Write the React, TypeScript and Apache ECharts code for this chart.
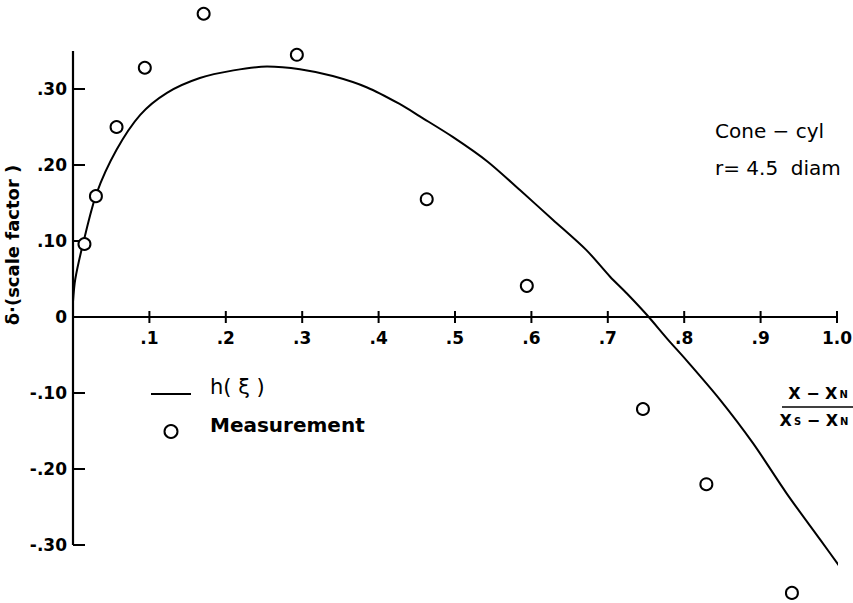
import React, { useEffect, useRef } from "react";
import * as echarts from "echarts";

// Tick positions and their printed labels
const xTicks = [0.1, 0.2, 0.3, 0.4, 0.5, 0.6, 0.7, 0.8, 0.9, 1.0];
const xTickLabels = [".1", ".2", ".3", ".4", ".5", ".6", ".7", ".8", ".9", "1.0"];
const yTicks = [-0.3, -0.2, -0.1, 0, 0.1, 0.2, 0.3];
const yTickLabels = ["-.30", "-.20", "-.10", "0", ".10", ".20", ".30"];

// Extent of the drawn vertical axis
const yAxisSpan = [-0.3, 0.35];

// h(ξ) curve
const curveXi = [
  0, 0.003, 0.014, 0.031, 0.057, 0.088, 0.123, 0.166, 0.21, 0.254, 0.297, 0.34,
  0.385, 0.428, 0.454, 0.497, 0.542, 0.585, 0.628, 0.672, 0.703, 0.725, 0.751,
  0.779, 0.803, 0.847, 0.89, 0.934, 0.978, 1.004,
];
const curveH = [
  0.02, 0.05, 0.1, 0.163, 0.22, 0.266, 0.295, 0.3145, 0.3245, 0.3295, 0.326, 0.317,
  0.302, 0.28, 0.264, 0.237, 0.205, 0.167, 0.128, 0.088, 0.053, 0.031, 0.003,
  -0.03, -0.057, -0.109, -0.166, -0.232, -0.293, -0.329,
];

// Measured scale factor
const measXi = [0.015, 0.03, 0.057, 0.094, 0.171, 0.293, 0.463, 0.594, 0.746, 0.829, 0.941];
const measDelta = [0.096, 0.159, 0.25, 0.328, 0.399, 0.345, 0.155, 0.041, -0.121, -0.22, -0.363];

const FONT = "DejaVu Sans";

export default function App() {
  const ref = useRef<HTMLDivElement>(null);

  useEffect(() => {
    if (!ref.current) return;
    const chart = echarts.init(ref.current, null, { renderer: "svg" });

    const yLabelOf = (v: number) => {
      const i = yTicks.findIndex((t) => Math.abs(t - v) < 1e-6);
      return i >= 0 ? yTickLabels[i] : "";
    };

    const option: any = {
      animation: false,
      backgroundColor: "#fff",
      grid: {
        left: 73,
        right: 16,
        top: 5.4,
        bottom: 1,
        containLabel: false,
        outerBoundsMode: "none",
      },
      xAxis: {
        type: "value",
        min: 0,
        max: 1.0,
        interval: 0.1,
        axisLine: { show: true, onZero: true, lineStyle: { color: "#000", width: 2.2 } },
        axisTick: { show: false },
        splitLine: { show: false },
        axisLabel: { show: false },
      },
      yAxis: {
        type: "value",
        min: -0.375,
        max: 0.41,
        axisLine: { show: false },
        axisTick: { show: false },
        splitLine: { show: false },
        axisLabel: {
          customValues: yTicks,
          formatter: (v: number) => yLabelOf(v),
          margin: 6,
          color: "#000",
          fontFamily: FONT,
          fontWeight: "bold",
          fontSize: 17,
        },
      },
      legend: {
        orient: "vertical",
        left: 151,
        top: 376.5,
        padding: 0,
        itemWidth: 40,
        itemHeight: 13,
        itemGap: 6,
        selectedMode: false,
        // label sits a little above its key: a blank second line lifts it
        formatter: (name: string) => `{t|${name}}\n{g| }`,
        textStyle: {
          color: "#000",
          fontFamily: FONT,
          fontSize: 21,
          padding: [0, 0, 0, 14],
          rich: {
            t: { fontFamily: FONT, fontSize: 21, lineHeight: 21, color: "#000" },
            g: { fontSize: 8, lineHeight: 14 },
          },
        },
        data: [
          {
            name: "h( ξ )",
            icon: "path://M0,0H40V2H0Z",
            itemStyle: { color: "#000", opacity: 1 },
          },
          {
            name: "Measurement",
            textStyle: {
              rich: {
                t: { fontFamily: FONT, fontSize: 20, lineHeight: 21, fontWeight: "bold", color: "#000" },
                g: { fontSize: 8, lineHeight: 14 },
              },
            },
          },
        ],
      },
      graphic: [
        {
          type: "text",
          x: 12,
          y: 245,
          rotation: Math.PI / 2,
          style: {
            text: "δ·(scale factor )",
            fill: "#000",
            font: `bold 18px "${FONT}"`,
            align: "center",
            verticalAlign: "middle",
          },
        },
        {
          type: "text",
          x: 715,
          y: 131,
          style: {
            text: "Cone − cyl",
            fill: "#000",
            font: `500 20px "${FONT}"`,
            align: "left",
            verticalAlign: "middle",
          },
        },
        {
          type: "text",
          x: 715,
          y: 168,
          style: {
            text: "r= 4.5  diam",
            fill: "#000",
            font: `500 20px "${FONT}"`,
            align: "left",
            verticalAlign: "middle",
          },
        },
        {
          type: "text",
          x: 818,
          y: 393,
          style: {
            text: "X − X{s|N}",
            fill: "#000",
            font: `bold 16px "${FONT}"`,
            align: "center",
            verticalAlign: "middle",
            rich: { s: { fontSize: 10, fontWeight: "bold", fontFamily: FONT, padding: [3, 0, 0, 2] } },
          },
        },
        {
          type: "line",
          shape: { x1: 782, y1: 407, x2: 853, y2: 407 },
          style: { stroke: "#000", lineWidth: 1.6 },
        },
        {
          type: "text",
          x: 814,
          y: 420,
          style: {
            text: "X{s|S} − X{s|N}",
            fill: "#000",
            font: `bold 16px "${FONT}"`,
            align: "center",
            verticalAlign: "middle",
            rich: { s: { fontSize: 10, fontWeight: "bold", fontFamily: FONT, padding: [3, 0, 0, 2] } },
          },
        },
      ],
      series: [
        {
          name: "h( ξ )",
          type: "line",
          data: curveXi.map((x, i) => [x, curveH[i]]),
          smooth: 0.3,
          showSymbol: false,
          symbol: "none",
          clip: false,
          lineStyle: { color: "#000", width: 2 },
          itemStyle: { color: "#000" },
          z: 3,
        },
        {
          name: "Measurement",
          type: "scatter",
          data: measXi.map((x, i) => [x, measDelta[i]]),
          symbol: "emptyCircle",
          symbolSize: 12,
          clip: false,
          itemStyle: { color: "#000", borderWidth: 2, opacity: 1 },
          z: 4,
        },
        {
          name: "vertical axis",
          type: "line",
          data: yAxisSpan.map((v) => [0, v]),
          symbol: "none",
          lineStyle: { color: "#000", width: 2.2 },
          z: 2,
        },
        {
          name: "x ticks",
          type: "custom",
          data: xTicks.map((v) => [v, 0]),
          clip: false,
          renderItem: (params: any, api: any) => {
            const pt = api.coord([api.value(0), api.value(1)]);
            return {
              type: "group",
              children: [
                {
                  type: "line",
                  shape: { x1: pt[0], y1: pt[1] - 6, x2: pt[0], y2: pt[1] + 6 },
                  style: { stroke: "#000", lineWidth: 2 },
                },
                {
                  type: "text",
                  x: pt[0],
                  y: pt[1] + 21,
                  style: {
                    text: xTickLabels[params.dataIndex],
                    fill: "#000",
                    font: `bold 17px "${FONT}"`,
                    align: "center",
                    verticalAlign: "middle",
                  },
                },
              ],
            };
          },
          z: 2,
        },
        {
          name: "y ticks",
          type: "custom",
          data: yTicks.map((v) => [0, v]),
          clip: false,
          renderItem: (_p: any, api: any) => {
            const pt = api.coord([api.value(0), api.value(1)]);
            return {
              type: "line",
              shape: { x1: pt[0], y1: pt[1], x2: pt[0] + 12, y2: pt[1] },
              style: { stroke: "#000", lineWidth: 2 },
            };
          },
          z: 2,
        },
      ],
    };

    chart.setOption(option);
    return () => chart.dispose();
  }, []);

  return (
    <div
      ref={ref}
      style={{ position: "fixed", left: 0, top: 0, width: 853, height: 603, background: "#fff" }}
    />
  );
}
